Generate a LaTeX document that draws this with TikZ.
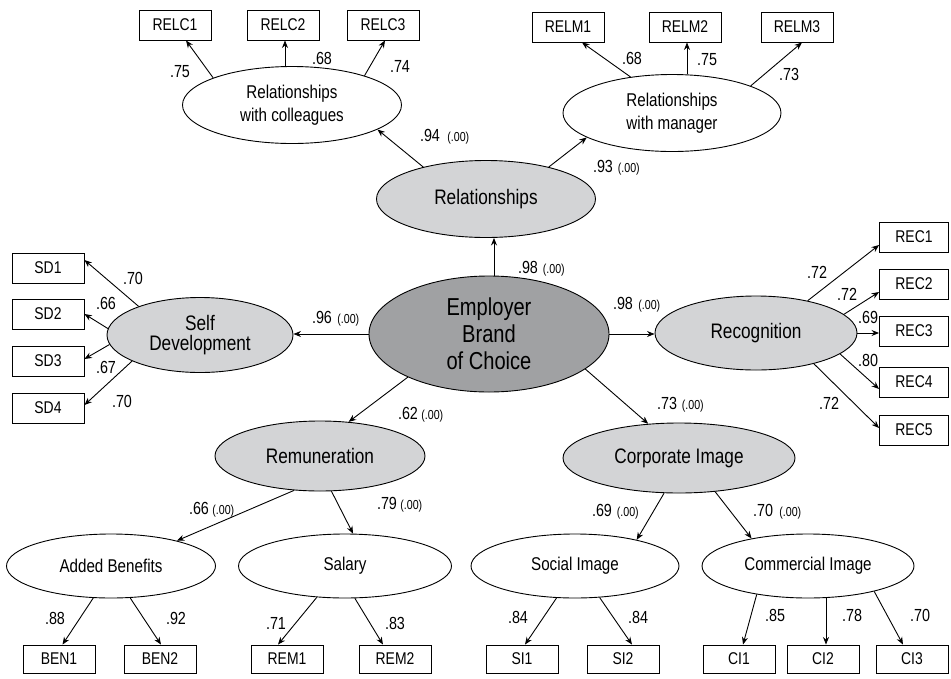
\documentclass[tikz,border=0pt]{standalone}
\usepackage{fontspec}
\setmainfont{Liberation Sans}[FakeStretch=0.82]
\usetikzlibrary{shapes.geometric,arrows.meta}
\definecolor{lightg}{RGB}{211,212,214}
\definecolor{darkg}{RGB}{160,161,163}
\begin{document}
\begin{tikzpicture}[x=1pt,y=-1pt,
  every node/.style={inner sep=0pt},
  obs/.style={draw, line width=0.9pt, minimum width=72pt, minimum height=30pt, font=\fontsize{17}{19}\selectfont},
  lat/.style={draw, ellipse, line width=0.9pt, fill=lightg, align=center, font=\fontsize{21}{19.5}\selectfont},
  sub/.style={draw, ellipse, line width=0.9pt, fill=white, align=center, font=\fontsize{18.5}{23}\selectfont},
  lab/.style={font=\fontsize{17.5}{19}\selectfont},
  pv/.style={font=\fontsize{13}{14}\selectfont, anchor=base west},
  arr/.style={-{Stealth[length=7.5pt,width=6pt]}, line width=0.9pt}
]
\useasboundingbox (0,0) rectangle (951,678);

% latent variables
\node[draw, ellipse, line width=0.9pt, fill=darkg, align=center, font=\fontsize{24.5}{27}\selectfont,
      minimum width=240pt, minimum height=116pt] (ebc) at (489,334) {Employer\\Brand\\of Choice};
\node[lat, minimum width=219pt, minimum height=77pt] (rel) at (486,199) {Relationships};
\node[sub, minimum width=219pt, minimum height=77pt] (relc) at (292,105) {Relationships\\with colleagues};
\node[sub, minimum width=218pt, minimum height=77pt] (relm) at (672,113) {Relationships\\with manager};
\node[lat, minimum width=186pt, minimum height=75pt] (sd) at (200,335) {Self\\Development};
\node[lat, minimum width=202pt, minimum height=74pt] (rec) at (756,333) {Recognition};
\node[lat, minimum width=210pt, minimum height=70pt] (rem) at (320,456) {Remuneration};
\node[lat, minimum width=232pt, minimum height=70pt] (ci) at (679,458) {Corporate Image};
\node[sub, minimum width=209pt, minimum height=64pt] (ab) at (111,566) {Added Benefits};
\node[sub, minimum width=213pt, minimum height=64pt] (sal) at (345,566) {Salary};
\node[sub, minimum width=208pt, minimum height=64pt] (si) at (575,566) {Social Image};
\node[sub, minimum width=212pt, minimum height=64pt] (cmi) at (808,566) {Commercial Image};

% observed variables
\node[obs] (relc1) at (175,25) {RELC1};
\node[obs] (relc2) at (283,25) {RELC2};
\node[obs] (relc3) at (383,25) {RELC3};
\node[obs] (relm1) at (568,27) {RELM1};
\node[obs] (relm2) at (685,27) {RELM2};
\node[obs] (relm3) at (797,27) {RELM3};
\node[obs] (sd1) at (48,268) {SD1};
\node[obs] (sd2) at (48,314) {SD2};
\node[obs] (sd3) at (48,361) {SD3};
\node[obs] (sd4) at (48,408) {SD4};
\node[obs, minimum width=69pt] (rec1) at (914,237) {REC1};
\node[obs, minimum width=69pt] (rec2) at (914,284) {REC2};
\node[obs, minimum width=69pt] (rec3) at (914,331) {REC3};
\node[obs, minimum width=69pt] (rec4) at (914,382) {REC4};
\node[obs, minimum width=69pt] (rec5) at (914,430) {REC5};
\node[obs, minimum height=28pt] (ben1) at (59,659) {BEN1};
\node[obs, minimum height=28pt] (ben2) at (160,659) {BEN2};
\node[obs, minimum height=28pt] (rem1) at (287,659) {REM1};
\node[obs, minimum height=28pt] (rem2) at (395,659) {REM2};
\node[obs, minimum height=28pt] (si1) at (522,659) {SI1};
\node[obs, minimum height=28pt] (si2) at (623,659) {SI2};
\node[obs, minimum height=28pt] (ci1) at (739,659) {CI1};
\node[obs, minimum height=28pt] (ci2) at (823,659) {CI2};
\node[obs, minimum height=28pt] (ci3) at (912,659) {CI3};

% structural arrows
\draw[arr] ([xshift=5pt]ebc.north) -- ([xshift=5pt]ebc.north |- rel.south);
\draw[arr] (ebc.west) -- (ebc.west -| sd.east);
\draw[arr] (ebc.east) -- (ebc.east -| rec.west);
\draw[arr] (ebc.-152) -- (rem.50);
\draw[arr] (ebc.-20) -- (ci.132);
\draw[arr] (rel.153) -- (relc.-16);
\draw[arr] (rel.27) -- (relm.-164);
\draw[arr] (rem.-127) -- (ab.21);
\draw[arr] (rem.-72) -- (sal.76);
\draw[arr] (ci.-113) -- (si.23);
\draw[arr] (ci.-43) -- (cmi.154);

% measurement arrows
\draw[arr] (relc.161) -- ([xshift=11pt]relc1.south);
\draw[arr] ([xshift=2pt]relc2.south |- relc.north) -- ([xshift=2pt]relc2.south);
\draw[arr] (relc.22) -- ([xshift=2pt]relc3.south);
\draw[arr] (relm.139) -- ([xshift=14pt]relm1.south);
\draw[arr] ([xshift=2pt]relm2.south |- relm.north) -- ([xshift=2pt]relm2.south);
\draw[arr] (relm.19) -- ([xshift=5pt]relm3.south);
\draw[arr] (sd.155) -- ([yshift=8pt]sd1.east);
\draw[arr] (sd.176) -- (sd2.east);
\draw[arr] (sd.-174) -- ([yshift=2pt]sd3.east);
\draw[arr] (sd.-159) -- ([yshift=3pt]sd4.east);
\draw[arr] (rec.32) -- ([yshift=-8pt]rec1.west);
\draw[arr] (rec.12) -- ([yshift=-8pt]rec2.west);
\draw[arr] (rec.east) -- (rec.east -| rec3.west);
\draw[arr] (rec.-14) -- ([yshift=-7pt]rec4.west);
\draw[arr] (rec.-28) -- ([yshift=2pt]rec5.west);
\draw[arr] (ab.-119) -- ([xshift=3.5pt]ben1.north);
\draw[arr] (ab.-59) -- ([xshift=1pt]ben2.north);
\draw[arr] (sal.-132) -- ([xshift=-9pt]rem1.north);
\draw[arr] (sal.-73) -- ([xshift=-12pt]rem2.north);
\draw[arr] (si.-120) -- ([xshift=3pt]si1.north);
\draw[arr] (si.-52) -- ([xshift=9pt]si2.north);
\draw[arr] (cmi.-151) -- ([xshift=4pt]ci1.north);
\draw[arr] ([xshift=3pt]ci2.north |- cmi.south) -- ([xshift=3pt]ci2.north);
\draw[arr] (cmi.-21) -- ([xshift=-9pt]ci3.north);

% loadings
\node[lab] (l1) at (180,72) {.75};
\node[lab] (l2) at (322,58) {.68};
\node[lab] (l3) at (400,66) {.74};
\node[lab] (l4) at (632,58) {.68};
\node[lab] (l5) at (707,60) {.75};
\node[lab] (l6) at (789,74) {.73};
\node[lab] (l7) at (133,278) {.70};
\node[lab] (l8) at (106,303) {.66};
\node[lab] (l9) at (106,367) {.67};
\node[lab] (l10) at (122,401) {.70};
\node[lab] (l11) at (817,272) {.72};
\node[lab] (l12) at (847,294) {.72};
\node[lab] (l13) at (868,317) {.69};
\node[lab] (l14) at (868,360) {.80};
\node[lab] (l15) at (829,403) {.72};
\node[lab] (l16) at (55,618) {.88};
\node[lab] (l17) at (176,618) {.92};
\node[lab] (l18) at (276,623) {.71};
\node[lab] (l19) at (395,623) {.83};
\node[lab] (l20) at (518,617) {.84};
\node[lab] (l21) at (638,617) {.84};
\node[lab] (l22) at (775,615) {.85};
\node[lab] (l23) at (852,615) {.78};
\node[lab] (l24) at (920,615) {.70};

% structural coefficients
\node[lab] (s1) at (430,135) {.94};
\node[pv] (q1) at ([xshift=7pt]s1.base east) {(.00)};
\node[lab] (s2) at (603,166) {.93};
\node[pv] (q2) at ([xshift=4.5pt]s2.base east) {(.00)};
\node[lab] (s3) at (528,267) {.98};
\node[pv] (q3) at ([xshift=4.5pt]s3.base east) {(.00)};
\node[lab] (s4) at (322,317) {.96};
\node[pv] (q4) at ([xshift=5pt]s4.base east) {(.00)};
\node[lab] (s5) at (623,303) {.98};
\node[pv] (q5) at ([xshift=5pt]s5.base east) {(.00)};
\node[lab] (s6) at (408,413) {.62};
\node[pv] (q6) at ([xshift=3pt]s6.base east) {(.00)};
\node[lab] (s7) at (667,403) {.73};
\node[pv] (q7) at ([xshift=4.5pt]s7.base east) {(.00)};
\node[lab] (s8) at (199,508) {.66};
\node[pv] (q8) at ([xshift=3pt]s8.base east) {(.00)};
\node[lab] (s9) at (387,503) {.79};
\node[pv] (q9) at ([xshift=3pt]s9.base east) {(.00)};
\node[lab] (s10) at (602,510) {.69};
\node[pv] (q10) at ([xshift=4.5pt]s10.base east) {(.00)};
\node[lab] (s11) at (763,510) {.70};
\node[pv] (q11) at ([xshift=6pt]s11.base east) {(.00)};
\end{tikzpicture}
\end{document}
